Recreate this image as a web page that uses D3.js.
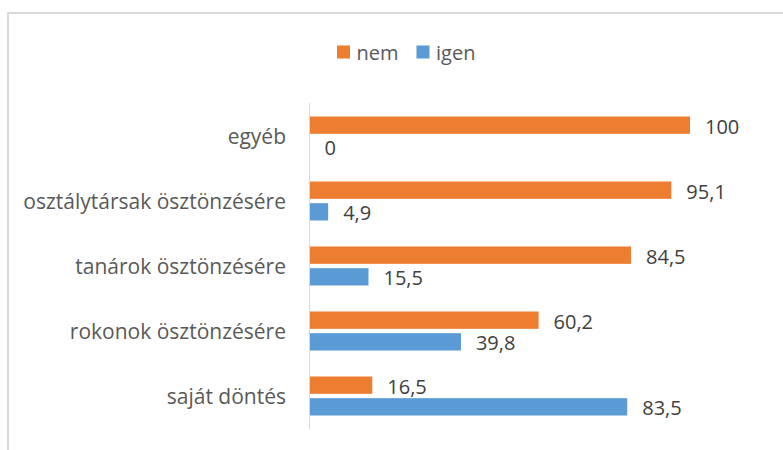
<!DOCTYPE html>
<html>
<head>
<meta charset="utf-8">
<script src="https://cdn.jsdelivr.net/npm/d3@7"></script>
<style>
  body { margin: 0; background: #fff; }
  svg text { font-family: "Open Sans", Lato, sans-serif; }
</style>
</head>
<body>
<div class="chart"></div>
<script>
// categories, top to bottom
const categories = ["egyéb", "osztálytársak ösztönzésére", "tanárok ösztönzésére", "rokonok ösztönzésére", "saját döntés"]
const series = ["nem", "igen"]
const nemValues = [100, 95.1, 84.5, 60.2, 16.5]
const igenValues = [0, 4.9, 15.5, 39.8, 83.5]
const labels = {nem: ["100", "95,1", "84,5", "60,2", "16,5"], igen: ["0", "4,9", "15,5", "39,8", "83,5"]}

const W = 783, H = 450
const svg = d3.select(".chart").append("svg").attr("width", W).attr("height", H)

// frame (only top + left edges visible in the picture)
svg.append("path")
  .attr("d", `M8,${H} L8,13 L${W},13`)
  .attr("fill", "none")
  .attr("stroke", "#d9d9d9")
  .attr("stroke-width", 2)

const colorScale = d3.scaleOrdinal().domain(series).range(["#ED7D31", "#5B9BD5"])

const xScale = d3.scaleLinear().domain([0, 100]).range([309.5, 690])
const yScale = d3.scaleBand().domain(categories).range([103.5, 428.5]).paddingInner(0.4).paddingOuter(0.2)
const ySub = d3.scaleBand().domain(series).range([0, yScale.bandwidth()]).paddingInner(0.2)

const rows = categories.map((c, i) => ({cat: c, nem: nemValues[i], igen: igenValues[i], i}))

// bars
const groups = svg.selectAll(".grp").data(rows).join("g")
  .attr("class", "grp")
  .attr("transform", d => `translate(0, ${yScale(d.cat)})`)

groups.selectAll("rect").data(d => series.map(k => ({key: k, value: d[k], i: d.i}))).join("rect")
  .attr("x", xScale(0))
  .attr("y", d => ySub(d.key))
  .attr("width", d => xScale(d.value) - xScale(0))
  .attr("height", ySub.bandwidth())
  .attr("fill", d => colorScale(d.key))

groups.selectAll(".val").data(d => series.map(k => ({key: k, value: d[k], i: d.i}))).join("text")
  .attr("class", "val")
  .attr("x", d => xScale(d.value) + 15)
  .attr("y", d => ySub(d.key) + ySub.bandwidth() / 2 + 1)
  .attr("dominant-baseline", "central")
  .attr("font-size", 20)
  .attr("fill", "#404040")
  .text(d => labels[d.key][d.i])

// vertical axis line
svg.append("line")
  .attr("x1", xScale(0)).attr("x2", xScale(0))
  .attr("y1", 103).attr("y2", 429)
  .attr("stroke", "#d9d9d9")
  .attr("stroke-width", 1)

// category labels
svg.selectAll(".cat").data(categories).join("text")
  .attr("class", "cat")
  .attr("x", 286)
  .attr("y", d => yScale(d) + yScale.bandwidth() / 2)
  .attr("text-anchor", "end")
  .attr("dominant-baseline", "central")
  .attr("font-size", 21)
  .attr("fill", "#595959")
  .text(d => d)

// legend
const legend = svg.append("g").attr("transform", "translate(337, 45.5)")
const legendX = [0, 79.5]
legend.selectAll("rect").data(series).join("rect")
  .attr("x", (d, i) => legendX[i])
  .attr("y", 0)
  .attr("width", 13)
  .attr("height", 13)
  .attr("fill", d => colorScale(d))
legend.selectAll("text").data(series).join("text")
  .attr("x", (d, i) => legendX[i] + 19.5)
  .attr("y", 6.5)
  .attr("dominant-baseline", "central")
  .attr("font-size", 20)
  .attr("fill", "#595959")
  .text(d => d)
</script>
</body>
</html>
